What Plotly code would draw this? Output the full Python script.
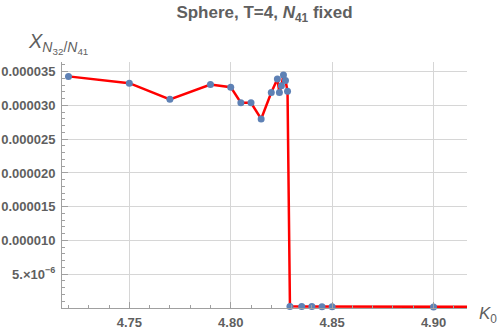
import plotly.graph_objects as go

# Data
k0 = [4.72, 4.75, 4.77, 4.79, 4.80, 4.805, 4.81, 4.815, 4.82, 4.823, 4.824,
      4.825, 4.826, 4.827, 4.828, 4.8292, 4.835, 4.84, 4.845, 4.85, 4.90, 4.95]
x_ratio = [3.43e-5, 3.33e-5, 3.09e-5, 3.31e-5, 3.27e-5, 3.04e-5, 3.04e-5, 2.80e-5,
           3.19e-5, 3.39e-5, 3.19e-5, 3.29e-5, 3.45e-5, 3.37e-5, 3.21e-5,
           2.4e-7, 2.2e-7, 2.1e-7, 2.0e-7, 2.0e-7, 1.6e-7, 1.5e-7]

y_tickvals = [5e-6, 1e-5, 1.5e-5, 2e-5, 2.5e-5, 3e-5, 3.5e-5]
y_ticktext = ["5.×10<sup>−6</sup>", "0.000010", "0.000015", "0.000020",
              "0.000025", "0.000030", "0.000035"]
x_tickvals = [4.75, 4.80, 4.85, 4.90]
x_ticktext = ["4.75", "4.80", "4.85", "4.90"]

TXT = "#5f5f5f"
FONT = "Liberation Sans, Arial, sans-serif"

fig = go.Figure()
fig.add_trace(go.Scatter(
    x=k0, y=x_ratio, mode="lines+markers",
    line=dict(color="#ff0000", width=2.5),
    marker=dict(color="#5e81b5", size=7),
    cliponaxis=False, showlegend=False,
))

L, R, T, B = 62, 33, 62, 24
fig.update_layout(
    width=500, height=332,
    margin=dict(l=L, r=R, t=T, b=B, pad=0, autoexpand=False),
    paper_bgcolor="white", plot_bgcolor="white",
    font=dict(family=FONT, color=TXT),
    title=dict(text="<b>Sphere, T=4, <i>N</i><sub>41</sub> fixed</b>",
               x=0.5, xref="paper", xanchor="center",
               y=1 - 12 / 332, yref="container", yanchor="middle",
               font=dict(size=17, color=TXT, family=FONT)),
    xaxis=dict(range=[4.7168, 4.9165], tickmode="array", tickvals=x_tickvals,
               ticktext=x_ticktext, showgrid=True, gridcolor="#d6d6d6", gridwidth=1,
               zeroline=False, showline=True, linecolor="#a0a0a0", linewidth=1,
               ticks="inside", ticklen=6, tickcolor="#a0a0a0", automargin=False,
               minor=dict(ticks="inside", tickmode="linear", tick0=4.70, dtick=0.01,
                          ticklen=3, tickcolor="#a0a0a0", showgrid=False),
               tickfont=dict(size=13, color=TXT, family=FONT, weight="bold"),
               ticklabelstandoff=2),
    yaxis=dict(range=[0, 3.643e-5], tickmode="array", tickvals=y_tickvals,
               ticktext=y_ticktext, showgrid=True, gridcolor="#d6d6d6", gridwidth=1,
               zeroline=False, showline=True, linecolor="#a0a0a0", linewidth=1,
               ticks="inside", ticklen=6, tickcolor="#a0a0a0", automargin=False,
               minor=dict(ticks="inside", tickmode="linear", tick0=0, dtick=1e-6,
                          ticklen=3, tickcolor="#a0a0a0", showgrid=False),
               tickfont=dict(size=13, color=TXT, family=FONT, weight="bold"),
               ticklabelstandoff=3),
)

pw = 500 - L - R
ph = 332 - T - B
fig.add_annotation(
    text="<i>X</i><sub><i>N</i><sub>32</sub>/<i>N</i><sub>41</sub></sub>",
    xref="paper", yref="paper", x=(26 - L) / pw, y=(332 - B - 28) / ph,
    xanchor="left", yanchor="top", showarrow=False,
    font=dict(size=20, color=TXT, family=FONT))
fig.add_annotation(
    text="<i>K</i><sub>0</sub>",
    xref="paper", yref="paper", x=(477 - L) / pw, y=(332 - B - 302) / ph,
    xanchor="left", yanchor="top", showarrow=False,
    font=dict(size=17, color=TXT, family=FONT))

fig.write_html("out.html", config={"displayModeBar": False},
               post_script="document.body.style.margin='0';document.body.style.overflow='hidden';")
